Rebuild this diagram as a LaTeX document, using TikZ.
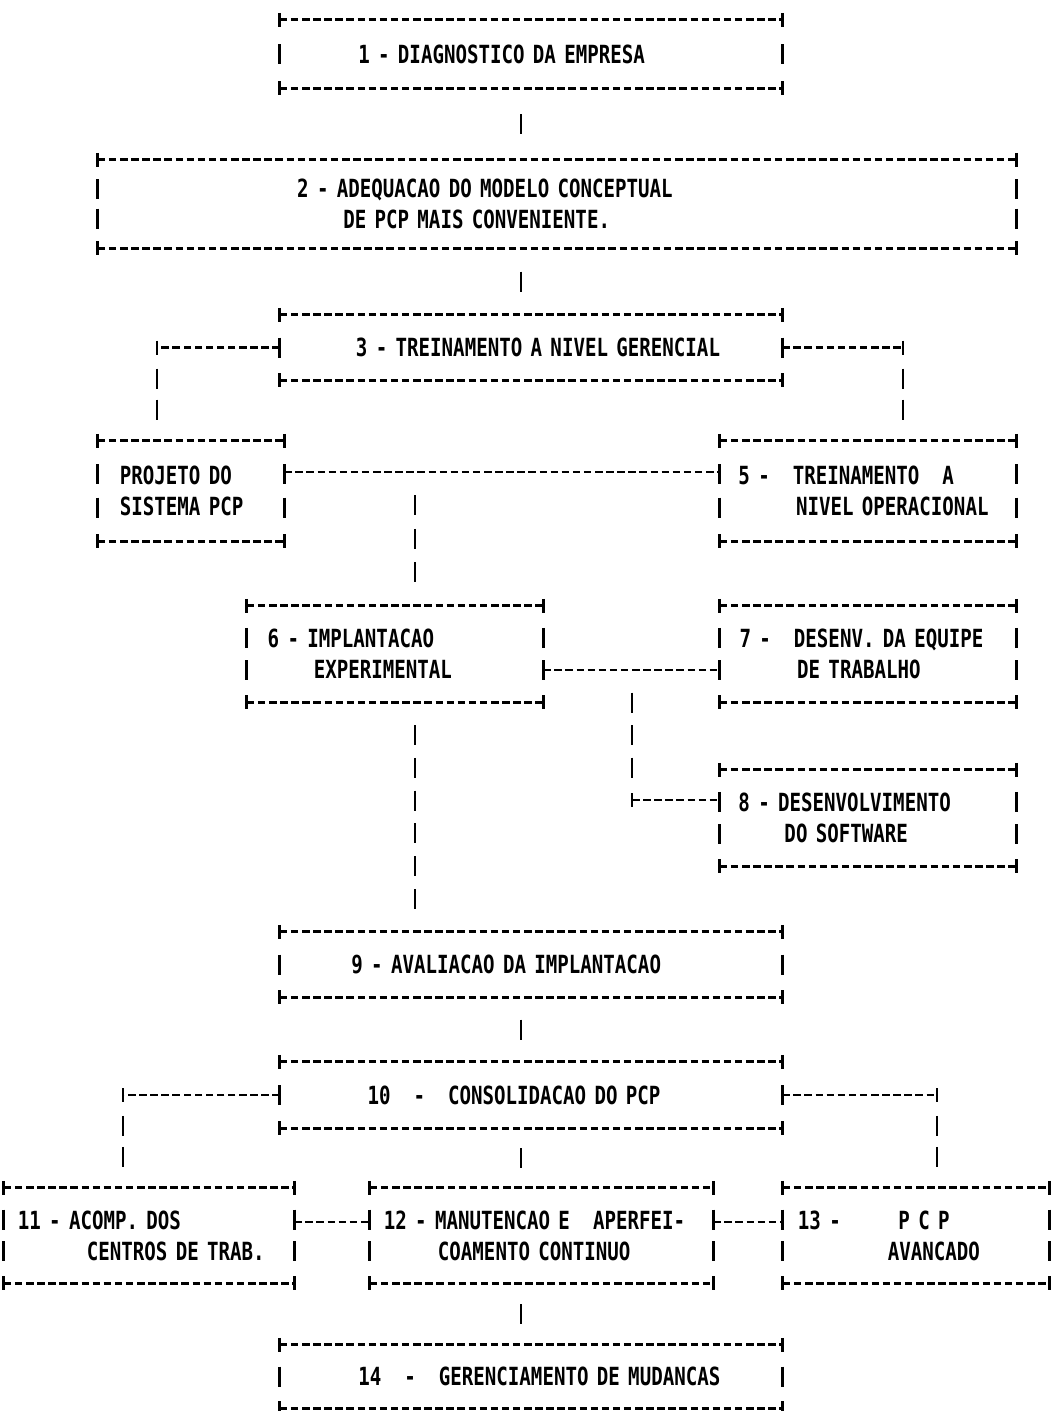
\documentclass[tikz,border=0pt]{standalone}
\usepackage{fontspec}
\usepackage{tikz}
\usetikzlibrary{decorations.markings}
\newfontfamily\asciifont{DejaVu Sans Mono}[FakeStretch=0.765]
\newcommand\dotfont{\asciifont\bfseries\fontsize{25}{31}\selectfont\frenchspacing}
\newlength\cw
\newcommand\pad[1]{\hspace*{#1\cw}}
\setlength{\parindent}{0pt}
\tikzset{
  box/.style={inner sep=0pt, align=left, font=\dotfont},
  hdash/.style={line width=2.8pt, dash pattern=on 7.5pt off 3.6pt},
  bar/.style={line width=2.8pt},
  vbars/.style={postaction={decorate,decoration={markings,
      mark=between positions 1/#1 and 1-0.5/#1 step 1/#1 with {\draw[bar] (-10pt,0) -- (10pt,0);}}}},
}
% box drawn as + - | characters
\newcommand\asciibox[2]{%
  \draw[hdash] (#1.north west) -- (#1.north east) (#1.south west) -- (#1.south east);
  \path[vbars=#2] (#1.north west) -- (#1.south west);
  \path[vbars=#2] (#1.north east) -- (#1.south east);
  \foreach \corner in {north west,north east,south west,south east}
    \draw[bar] ([yshift=7pt]#1.\corner) -- ([yshift=-7pt]#1.\corner);
}
\newcommand\plusmark[1]{\draw[bar] ([yshift=7pt]#1) -- ([yshift=-7pt]#1);}

\begin{document}
\settowidth{\cw}{\dotfont M}
\begin{tikzpicture}[x=1pt,y=-1pt]
    \fill[white] (0,0) rectangle (1053,1411);
    \useasboundingbox (0,0) rectangle (1053,1411);
    % boxes
    \node[box, minimum width=502pt, text width=502pt, minimum height=68pt] (b1) at (531,54)
        {\pad{6.8}1 - DIAGNOSTICO DA EMPRESA};
    \node[box, minimum width=918pt, text width=918pt, minimum height=88pt] (b2) at (557,204)
        {\pad{17.3}2 - ADEQUACAO DO MODELO CONCEPTUAL\\\pad{21.3}DE PCP MAIS CONVENIENTE.};
    \node[box, minimum width=502pt, text width=502pt, minimum height=65pt] (b3) at (531,347.5)
        {\pad{6.6}3 - TREINAMENTO A NIVEL GERENCIAL};
    \node[box, minimum width=186pt, text width=186pt, minimum height=100pt] (b4) at (191,491)
        {\pad{1.9}PROJETO DO\\\pad{1.9}SISTEMA PCP};
    \node[box, minimum width=296pt, text width=296pt, minimum height=100pt] (b5) at (868,491)
        {\pad{1.6}5 -\pad{2}TREINAMENTO\pad{2}A\\\pad{6.6}NIVEL OPERACIONAL};
    \node[box, minimum width=296pt, text width=296pt, minimum height=96pt] (b6) at (395,654)
        {\pad{1.8}6 - IMPLANTACAO\\\pad{5.8}EXPERIMENTAL};
    \node[box, minimum width=296pt, text width=296pt, minimum height=96pt] (b7) at (868,654)
        {\pad{1.7}7 -\pad{2}DESENV. DA EQUIPE\\\pad{6.7}DE TRABALHO};
    \node[box, minimum width=296pt, text width=296pt, minimum height=96pt] (b8) at (868,818)
        {\pad{1.6}8 - DESENVOLVIMENTO\\\pad{5.6}DO SOFTWARE};
    \node[box, minimum width=502pt, text width=502pt, minimum height=65pt] (b9) at (531,964.5)
        {\pad{6.2}9 - AVALIACAO DA IMPLANTACAO};
    \node[box, minimum width=502pt, text width=502pt, minimum height=66pt] (b10) at (531,1095)
        {\pad{7.6}10\pad{2}-\pad{2}CONSOLIDACAO DO PCP};
    \node[box, minimum width=290pt, text width=290pt, minimum height=95pt] (b11) at (149,1235.5)
        {\pad{1.2}11 - ACOMP. DOS\\\pad{7.2}CENTROS DE TRAB.};
    \node[box, minimum width=343pt, text width=343pt, minimum height=95pt] (b12) at (541.5,1235.5)
        {\pad{1.2}12 - MANUTENCAO E\pad{2}APERFEI-\\\pad{5.9}COAMENTO CONTINUO};
    \node[box, minimum width=266pt, text width=266pt, minimum height=95pt] (b13) at (916,1235.5)
        {\pad{1.3}13 -\pad{5}P C P\\\pad{9.1}AVANCADO};
    \node[box, minimum width=502pt, text width=502pt, minimum height=63pt] (b14) at (531,1376.5)
        {\pad{6.8}14\pad{2}-\pad{2}GERENCIAMENTO DE MUDANCAS};
    \asciibox{b1}{2} \asciibox{b2}{3} \asciibox{b3}{2}
    \asciibox{b4}{3} \asciibox{b5}{3} \asciibox{b6}{3}
    \asciibox{b7}{3} \asciibox{b8}{3} \asciibox{b9}{2}
    \asciibox{b10}{2} \asciibox{b11}{3} \asciibox{b12}{3}
    \asciibox{b13}{3} \asciibox{b14}{2}
    % turning points and junctions
    \coordinate (spine) at (521,0);
    \coordinate (c3l) at (157,347.5);
    \coordinate (c3r) at (903,347.5);
    \coordinate (j1) at (415,472);
    \coordinate (j2) at (632,670);
    \coordinate (k2) at (632,800);
    \coordinate (c10l) at (123,1095);
    \coordinate (c10r) at (937,1095);
    % main column
    \path[vbars=2] (b1.south -| spine) -- (b2.north -| spine);
    \path[vbars=2] (b2.south -| spine) -- (b3.north -| spine);
    \path[vbars=2] (b9.south -| spine) -- (b10.north -| spine);
    \path[vbars=2] (b10.south -| spine) -- (b12.north -| spine);
    \path[vbars=2] (b12.south -| spine) -- (b14.north -| spine);
    % 3 to 4 and 5
    \draw[hdash] (b3.west) -- (c3l); \plusmark{c3l}
    \path[vbars=3] (c3l) -- (c3l |- b4.north);
    \draw[hdash] (b3.east) -- (c3r); \plusmark{c3r}
    \path[vbars=3] (c3r) -- (c3r |- b5.north);
    % 4 - 5, down to 6
    \draw[hdash] ([yshift=19pt]b4.east) -- ([yshift=19pt]b5.west);
    \path[vbars=4] (j1) -- (j1 |- b6.north);
    % 6 - 7, down to 8
    \draw[hdash] ([yshift=-16pt]b6.east) -- ([yshift=-16pt]b7.west);
    \path[vbars=4] (j2) -- (k2); \plusmark{k2}
    \draw[hdash] (k2) -- (k2 -| b8.west);
    % 6 to 9
    \path[vbars=7] (b6.south -| j1) -- (b9.north -| j1);
    % 10 to 11 and 13
    \draw[hdash] (b10.west) -- (c10l); \plusmark{c10l}
    \path[vbars=3] (c10l) -- (c10l |- b11.north);
    \draw[hdash] (b10.east) -- (c10r); \plusmark{c10r}
    \path[vbars=3] (c10r) -- (c10r |- b13.north);
    % 11 - 12 - 13
    \draw[hdash] ([yshift=13.5pt]b11.east) -- ([yshift=13.5pt]b12.west);
    \draw[hdash] ([yshift=13.5pt]b12.east) -- ([yshift=13.5pt]b13.west);
\end{tikzpicture}
\end{document}
